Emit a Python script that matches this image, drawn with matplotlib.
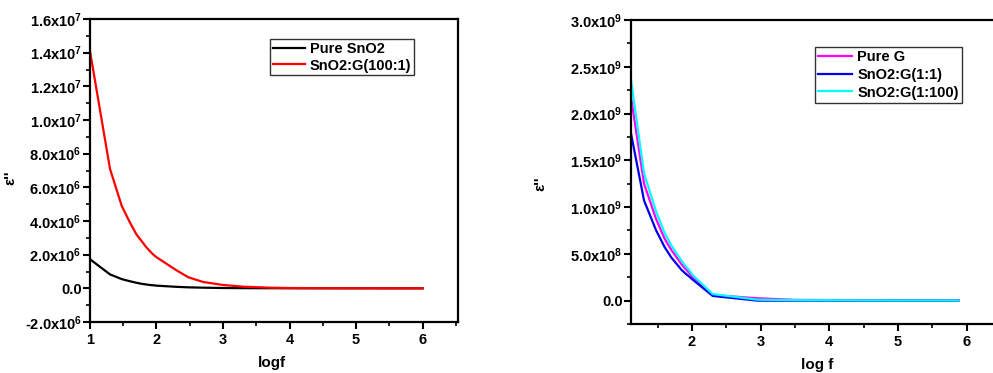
import matplotlib
matplotlib.use("Agg")
import math
import matplotlib.pyplot as plt
from matplotlib.ticker import MultipleLocator, FuncFormatter

plt.rcParams['font.family'] = ['Liberation Sans', 'DejaVu Sans']
plt.rcParams['font.weight'] = 'bold'
plt.rcParams['mathtext.fontset'] = 'custom'
plt.rcParams['mathtext.rm'] = 'Liberation Sans:bold'
plt.rcParams['mathtext.it'] = 'Liberation Sans:bold'
plt.rcParams['mathtext.bf'] = 'Liberation Sans:bold'

# ---- Left panel data ----
logf_left = [1.0, 1.301, 1.477, 1.602, 1.699, 1.778, 1.845, 1.903, 1.954, 2.0,
             2.301, 2.477, 2.699, 3.0, 3.301, 3.699, 4.0, 4.5, 5.0, 5.5, 6.0]
pure_sno2 = [1.73e6, 0.83e6, 0.55e6, 0.42e6, 0.33e6, 0.27e6, 0.23e6, 0.20e6, 0.18e6, 0.16e6,
             0.09e6, 0.06e6, 0.04e6, 0.02e6, 0.012e6, 0.008e6, 0.005e6, 0.003e6, 0.002e6, 0.001e6, 0.001e6]
sno2_g_100_1 = [14.1e6, 7.1e6, 4.9e6, 3.9e6, 3.2e6, 2.8e6, 2.45e6, 2.2e6, 2.0e6, 1.85e6,
                1.07e6, 0.66e6, 0.38e6, 0.20e6, 0.10e6, 0.04e6, 0.02e6, 0.01e6, 0.005e6, 0.003e6, 0.002e6]

# ---- Right panel data ----
logf_right = [1.11, 1.301, 1.477, 1.602, 1.699, 1.778, 1.845, 1.903, 1.954, 2.0,
              2.301, 2.95, 3.5, 4.0, 4.5, 5.0, 5.5, 5.88]
pure_g = [2.18e9, 1.25e9, 0.87e9, 0.66e9, 0.54e9, 0.46e9, 0.39e9, 0.34e9, 0.30e9, 0.26e9,
          0.06e9, 0.025e9, 0.008e9, 0.006e9, 0.005e9, 0.004e9, 0.003e9, 0.002e9]
sno2_g_1_1 = [1.79e9, 1.07e9, 0.75e9, 0.57e9, 0.46e9, 0.39e9, 0.33e9, 0.29e9, 0.26e9, 0.23e9,
              0.05e9, 0.0e9, 0.0e9, 0.0e9, 0.0e9, 0.0e9, 0.0e9, 0.0e9]
sno2_g_1_100 = [2.36e9, 1.36e9, 0.95e9, 0.72e9, 0.59e9, 0.50e9, 0.43e9, 0.37e9, 0.33e9, 0.28e9,
                0.07e9, 0.01e9, 0.005e9, 0.004e9, 0.003e9, 0.002e9, 0.002e9, 0.001e9]


def sci_fmt(v, pos):
    if v == 0 or abs(v) < 1e-6:
        return '0.0'
    e = int(math.floor(math.log10(abs(v)) + 1e-9))
    m = v / 10 ** e
    return r'%.1fx10$^{%d}$' % (m, e)


fig = plt.figure(figsize=(9.93, 3.73), dpi=100)


def style_axes(ax):
    for s in ax.spines.values():
        s.set_linewidth(1.6)
    ax.tick_params(axis='both', which='major', direction='out', length=5, width=1.5,
                   labelsize=10.5)
    ax.tick_params(axis='y', which='major', pad=1)
    ax.tick_params(axis='x', which='major', pad=3)
    ax.tick_params(axis='both', which='minor', direction='out', length=3, width=1.2)
    ax.tick_params(top=False, right=False)
    for lab in ax.get_xticklabels() + ax.get_yticklabels():
        lab.set_fontweight('bold')


# Left panel
ax1 = fig.add_axes([0.0906, 0.1367, 0.3705, 0.8123])
ax1.plot(logf_left, pure_sno2, color='black', lw=1.6, label='Pure SnO2')
ax1.plot(logf_left, sno2_g_100_1, color='#ff0000', lw=1.6, label='SnO2:G(100:1)')
ax1.set_xlim(1, 6.53)
ax1.set_ylim(-2e6, 1.6e7)
ax1.xaxis.set_major_locator(MultipleLocator(1))
ax1.xaxis.set_minor_locator(MultipleLocator(0.5))
ax1.yaxis.set_major_locator(MultipleLocator(2e6))
ax1.yaxis.set_minor_locator(MultipleLocator(1e6))
ax1.yaxis.set_major_formatter(FuncFormatter(sci_fmt))
style_axes(ax1)
ax1.set_xlabel('logf', fontsize=11, fontweight='bold')
ax1.xaxis.set_label_coords(0.495, -0.112)
ax1.set_ylabel("ε''", fontsize=11, fontweight='bold')
ax1.yaxis.set_label_coords(-0.196, 0.475)
leg1 = ax1.legend(loc='upper left', bbox_to_anchor=(0.49, 0.935), fontsize=10.5,
                  frameon=True, fancybox=False, edgecolor='black', borderpad=0.2,
                  handlelength=2.2, handletextpad=0.3, labelspacing=0.2, borderaxespad=0)
leg1.get_frame().set_linewidth(1.0)

# Right panel
ax2 = fig.add_axes([0.6354, 0.1314, 0.3726, 0.8149])
ax2.plot(logf_right, pure_g, color='#ff00ff', lw=1.6, label='Pure G')
ax2.plot(logf_right, sno2_g_1_1, color='#0000ee', lw=1.6, label='SnO2:G(1:1)')
ax2.plot(logf_right, sno2_g_1_100, color='#00ffff', lw=1.6, label='SnO2:G(1:100)')
ax2.set_xlim(1.11, 6.5)
ax2.set_ylim(-2.5e8, 3.0e9)
ax2.xaxis.set_major_locator(MultipleLocator(1))
ax2.xaxis.set_minor_locator(MultipleLocator(0.5))
ax2.yaxis.set_major_locator(MultipleLocator(5e8))
ax2.yaxis.set_minor_locator(MultipleLocator(2.5e8))
ax2.yaxis.set_major_formatter(FuncFormatter(sci_fmt))
style_axes(ax2)
ax2.set_xlabel('log f', fontsize=11, fontweight='bold')
ax2.xaxis.set_label_coords(0.502, -0.112)
ax2.set_ylabel("ε''", fontsize=11, fontweight='bold')
ax2.yaxis.set_label_coords(-0.226, 0.46)
leg2 = ax2.legend(loc='upper left', bbox_to_anchor=(0.498, 0.91), fontsize=10.5,
                  frameon=True, fancybox=False, edgecolor='black', borderpad=0.2,
                  handlelength=2.3, handletextpad=0.4, labelspacing=0.25, borderaxespad=0)
leg2.get_frame().set_linewidth(1.0)

fig.savefig('out.png', dpi=100)
